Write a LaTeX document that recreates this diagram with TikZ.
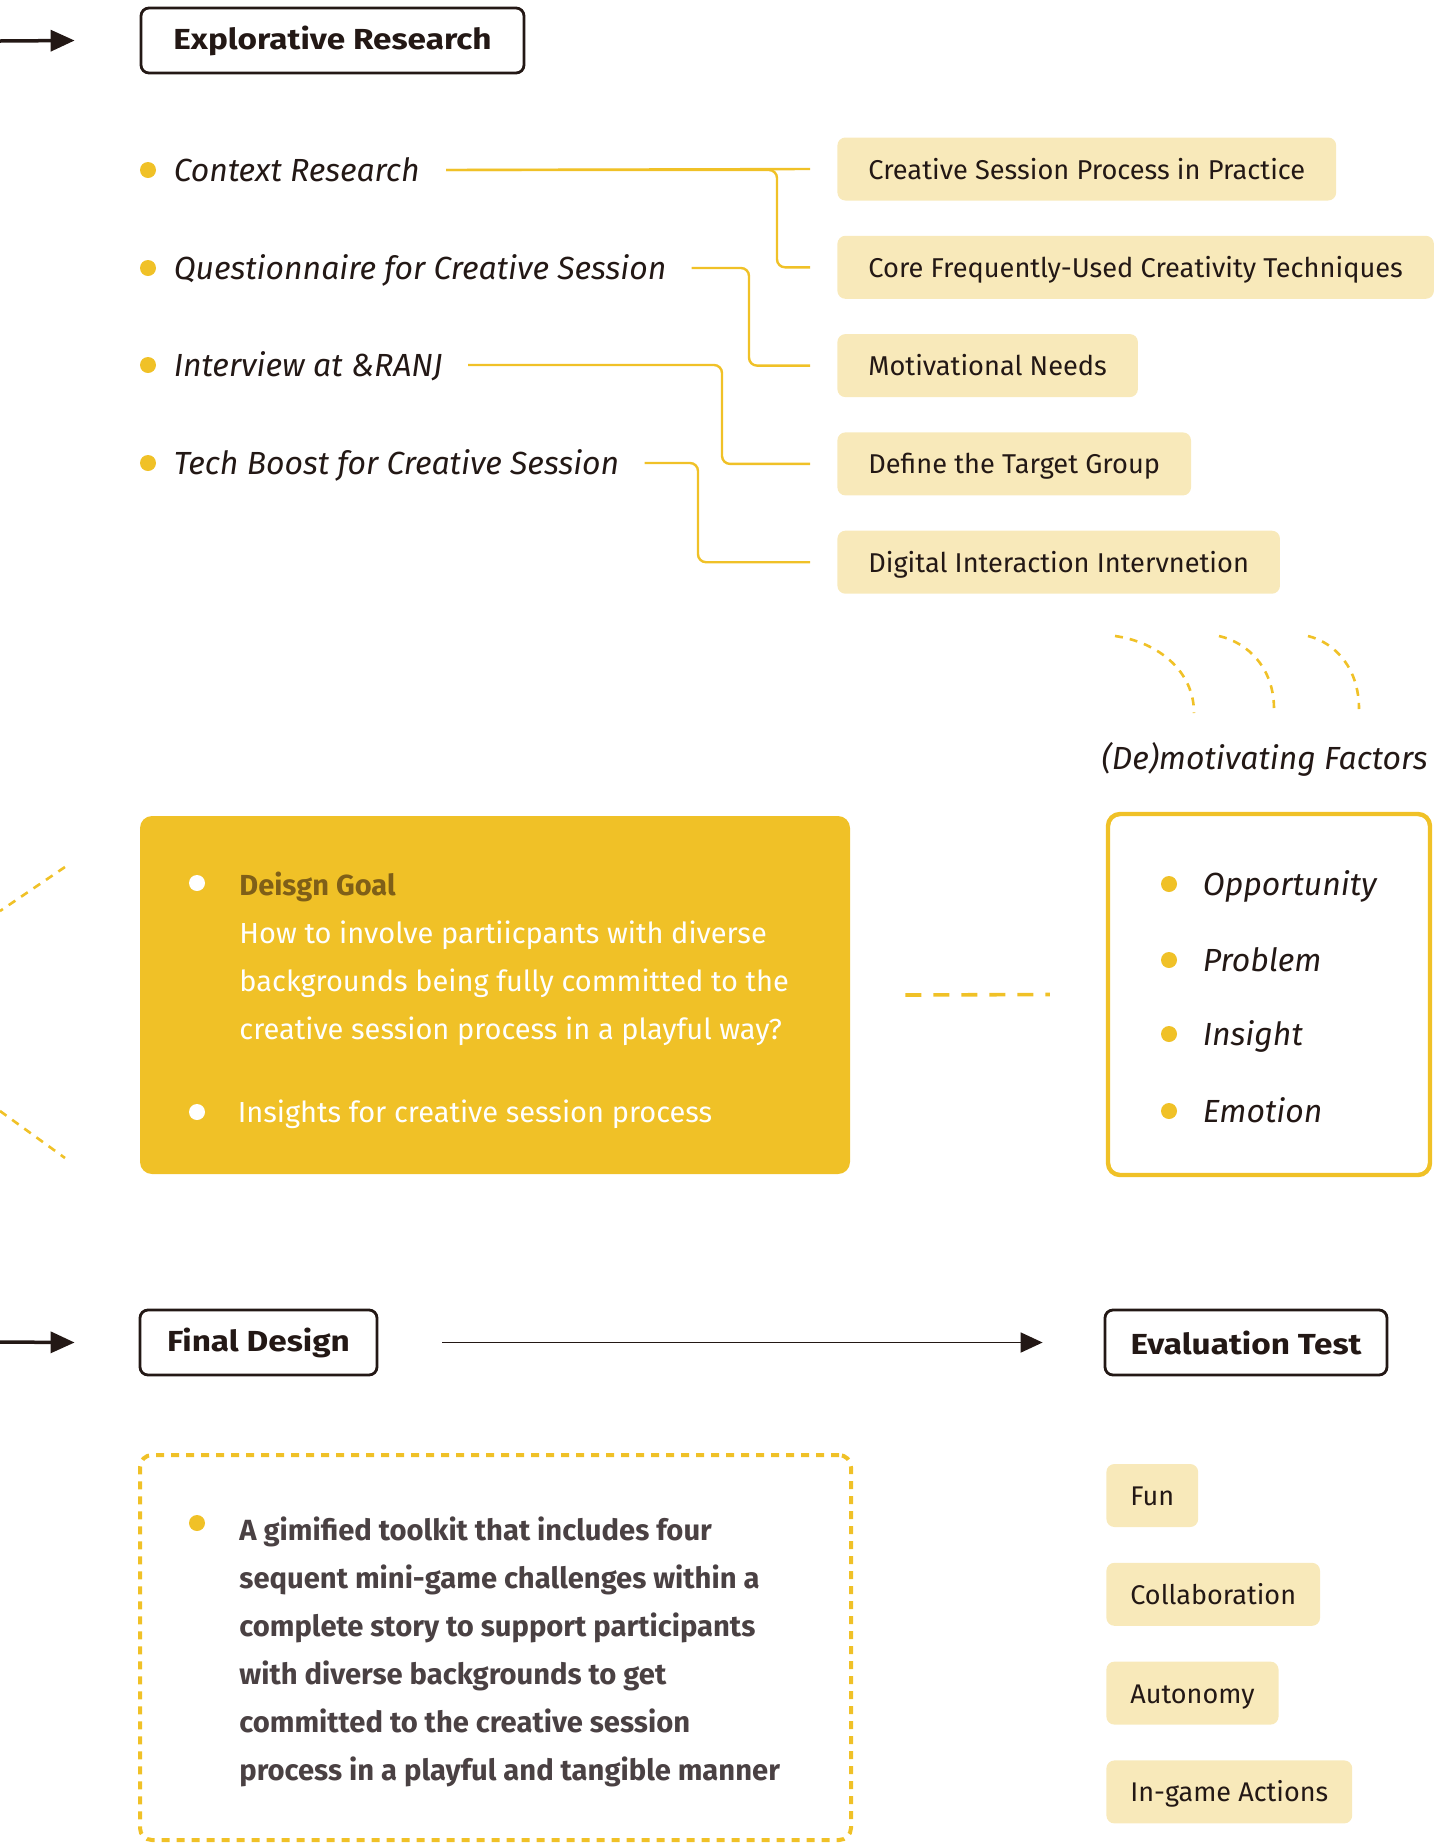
\documentclass[tikz,border=0pt]{standalone}
\usepackage{fontspec}
\setmainfont{Fira Sans}
\newfontfamily\stagefont{Fira Sans}[FakeStretch=1.15]
\usetikzlibrary{arrows.meta,positioning}

\definecolor{inkdark}{HTML}{231815}
\definecolor{gold}{HTML}{F0C127}
\definecolor{cream}{HTML}{F8E9BA}
\definecolor{goalbrown}{HTML}{7F5F18}
\definecolor{textgrey}{HTML}{4A4143}

\begin{document}
\begin{tikzpicture}[
    x=0.5pt, y=-0.5pt,
    stage/.style={rectangle, draw=inkdark, line width=1.4pt, rounded corners=4pt, minimum height=32.5pt, text=inkdark, font=\stagefont\fontsize{14.5}{17}\selectfont\bfseries},
    tag/.style={rectangle, fill=cream, rounded corners=4pt, minimum height=31.5pt, inner xsep=15.5pt, anchor=west, text=inkdark, text height=10pt, text depth=0pt, font=\fontsize{13.6}{17}\selectfont},
    evaltag/.style={tag, inner xsep=12pt, font=\fontsize{13.5}{16}\selectfont},
    item/.style={anchor=west, inner sep=0pt, text=inkdark, text height=11pt, text depth=0pt, font=\itshape\fontsize{16}{19}\selectfont},
    dot/.style={circle, fill=gold, minimum size=8pt, inner sep=0pt},
    whitedot/.style={dot, fill=white},
    wire/.style={draw=gold, line width=1.2pt, rounded corners=4pt},
    arrow/.style={-{Triangle[length=12pt,width=10.5pt]}, line width=1.75pt, draw=inkdark},
    thinarrow/.style={-{Triangle[length=11pt,width=10pt]}, line width=0.9pt, draw=inkdark},
    dashline/.style={draw=gold, line width=1.3pt, dash pattern=on 4pt off 3.5pt},
    dashlink/.style={draw=gold, line width=1.8pt, dash pattern=on 8pt off 6pt}
]
\useasboundingbox (0,0) rectangle (1442,1843);

% Explorative research
\coordinate (inE) at (0,41);
\node[stage, minimum width=191.5pt] (explore) at (332.5,40.5) {Explorative Research};
\draw[arrow] (inE) -- ([xshift=-32.5pt]explore.west);

% Research items
\node[dot] (d1) at (148,170) {};
\node[dot] (d2) at (148,268) {};
\node[dot] (d3) at (148,365) {};
\node[dot] (d4) at (148,463) {};
\node[item, right=8.5pt of d1] (ctx) {Context Research};
\node[item, right=8.5pt of d2] (quest) {Questionnaire for Creative Session};
\node[item, right=8.5pt of d3] (intv) {Interview at \&RANJ};
\node[item, right=8.5pt of d4] (tech) {Tech Boost for Creative Session};

% Findings
\node[tag] (t1) at (837,169) {Creative Session Process in Practice};
\node[tag, below=17.25pt of t1.south west, anchor=north west] (t2) {Core Frequently-Used Creativity Techniques};
\node[tag, below=17.25pt of t2.south west, anchor=north west] (t3) {Motivational Needs};
\node[tag, below=17.25pt of t3.south west, anchor=north west] (t4) {Define the Target Group};
\node[tag, below=17.25pt of t4.south west, anchor=north west] (t5) {Digital Interaction Intervnetion};

% Wires
\draw[wire] ([xshift=13pt]ctx.east) -- ([xshift=-13.5pt]t1.west);
\draw[wire] ([xshift=13pt]ctx.east) -| ([xshift=-30pt]t2.west) -- ([xshift=-13.5pt]t2.west);
\draw[wire] ([xshift=12.5pt]quest.east) -| ([xshift=-44pt]t3.west) -- ([xshift=-13.5pt]t3.west);
\draw[wire] ([xshift=12.5pt]intv.east) -| ([xshift=-57.5pt]t4.west) -- ([xshift=-13.5pt]t4.west);
\draw[wire] ([xshift=12.5pt]tech.east) -| ([xshift=-69.5pt]t5.west) -- ([xshift=-13.5pt]t5.west);

% Waves
\draw[dashline] (1115,636) .. controls (1158,642) and (1194,671) .. (1194,713);
\draw[dashline] (1219,636) .. controls (1249,643) and (1274,669) .. (1274,709);
\draw[dashline] (1308,636) .. controls (1336,643) and (1359,669) .. (1359,709);
\node[item, anchor=east] (demot) at (1428,758) {(De)motivating Factors};

% Design goal
\draw[dashline] (65,867) -- (0,911);
\draw[dashline] (0,1111) -- (65,1158);
\node[rectangle, fill=gold, rounded corners=6pt, minimum width=355pt, minimum height=179pt] (goal) at (495,995) {};
\node[whitedot] (gd1) at (197,883) {};
\node[anchor=north west, inner sep=0pt, align=left, text=white, font=\fontsize{14.5}{24}\selectfont] (goaltxt) at (239,872)
    {{\color{goalbrown}\bfseries Deisgn Goal}\\How to involve partiicpants with diverse\\backgrounds being fully committed to the\\creative session process in a playful way?};
\node[whitedot] (gd2) at (197,1112) {};
\node[item, right=16pt of gd2, text=white, font=\fontsize{14.5}{17}\selectfont, text height=10pt] (insight) {Insights for creative session process};

% Factors
\node[rectangle, draw=gold, line width=2.2pt, fill=white, rounded corners=6pt, minimum width=161pt, minimum height=180.5pt] (factors) at (1269,994.5) {};
\node[dot] (fd1) at (1169,884) {};
\node[dot] (fd2) at (1169,960) {};
\node[dot] (fd3) at (1169,1034) {};
\node[dot] (fd4) at (1169,1111) {};
\node[item, right=12.5pt of fd1] (opp) {Opportunity};
\node[item, right=12.5pt of fd2] (prob) {Problem};
\node[item, right=12.5pt of fd3] (ins) {Insight};
\node[item, right=12.5pt of fd4] (emo) {Emotion};
\draw[dashlink] ([xshift=27.5pt]goal.east) -- ([xshift=-28pt]factors.west);

% Final design and evaluation
\coordinate (inF) at (0,1342);
\node[stage, minimum width=118.5pt] (final) at (258.5,1342.5) {Final Design};
\node[stage, minimum width=141pt] (eval) at (1246,1342.5) {Evaluation Test};
\draw[arrow] (inF) -- ([xshift=-32pt]final.west);
\draw[thinarrow] ([xshift=32pt]final.east) -- ([xshift=-30.5pt]eval.west);

% Outcome
\node[rectangle, draw=gold, line width=2pt, dash pattern=on 4pt off 3.5pt, rounded corners=6pt, minimum width=355.5pt, minimum height=192.5pt] (outcome) at (495.5,1647.5) {};
\node[dot] (od) at (197,1523) {};
\node[anchor=north west, inner sep=0pt, align=left, text=textgrey, font=\bfseries\fontsize{14.6}{24}\selectfont] (outtxt) at (239,1516)
    {A gimified toolkit that includes four\\sequent mini-game challenges within a\\complete story to support participants\\with diverse backgrounds to get\\committed to the creative session\\process in a playful and tangible manner};

% Criteria
\node[evaltag] (fun) at (1106,1495.5) {Fun};
\node[evaltag, below=17.5pt of fun.south west, anchor=north west] (collab) {Collaboration};
\node[evaltag, below=17.5pt of collab.south west, anchor=north west] (auto) {Autonomy};
\node[evaltag, below=17.5pt of auto.south west, anchor=north west] (ingame) {In-game Actions};

\end{tikzpicture}
\end{document}
